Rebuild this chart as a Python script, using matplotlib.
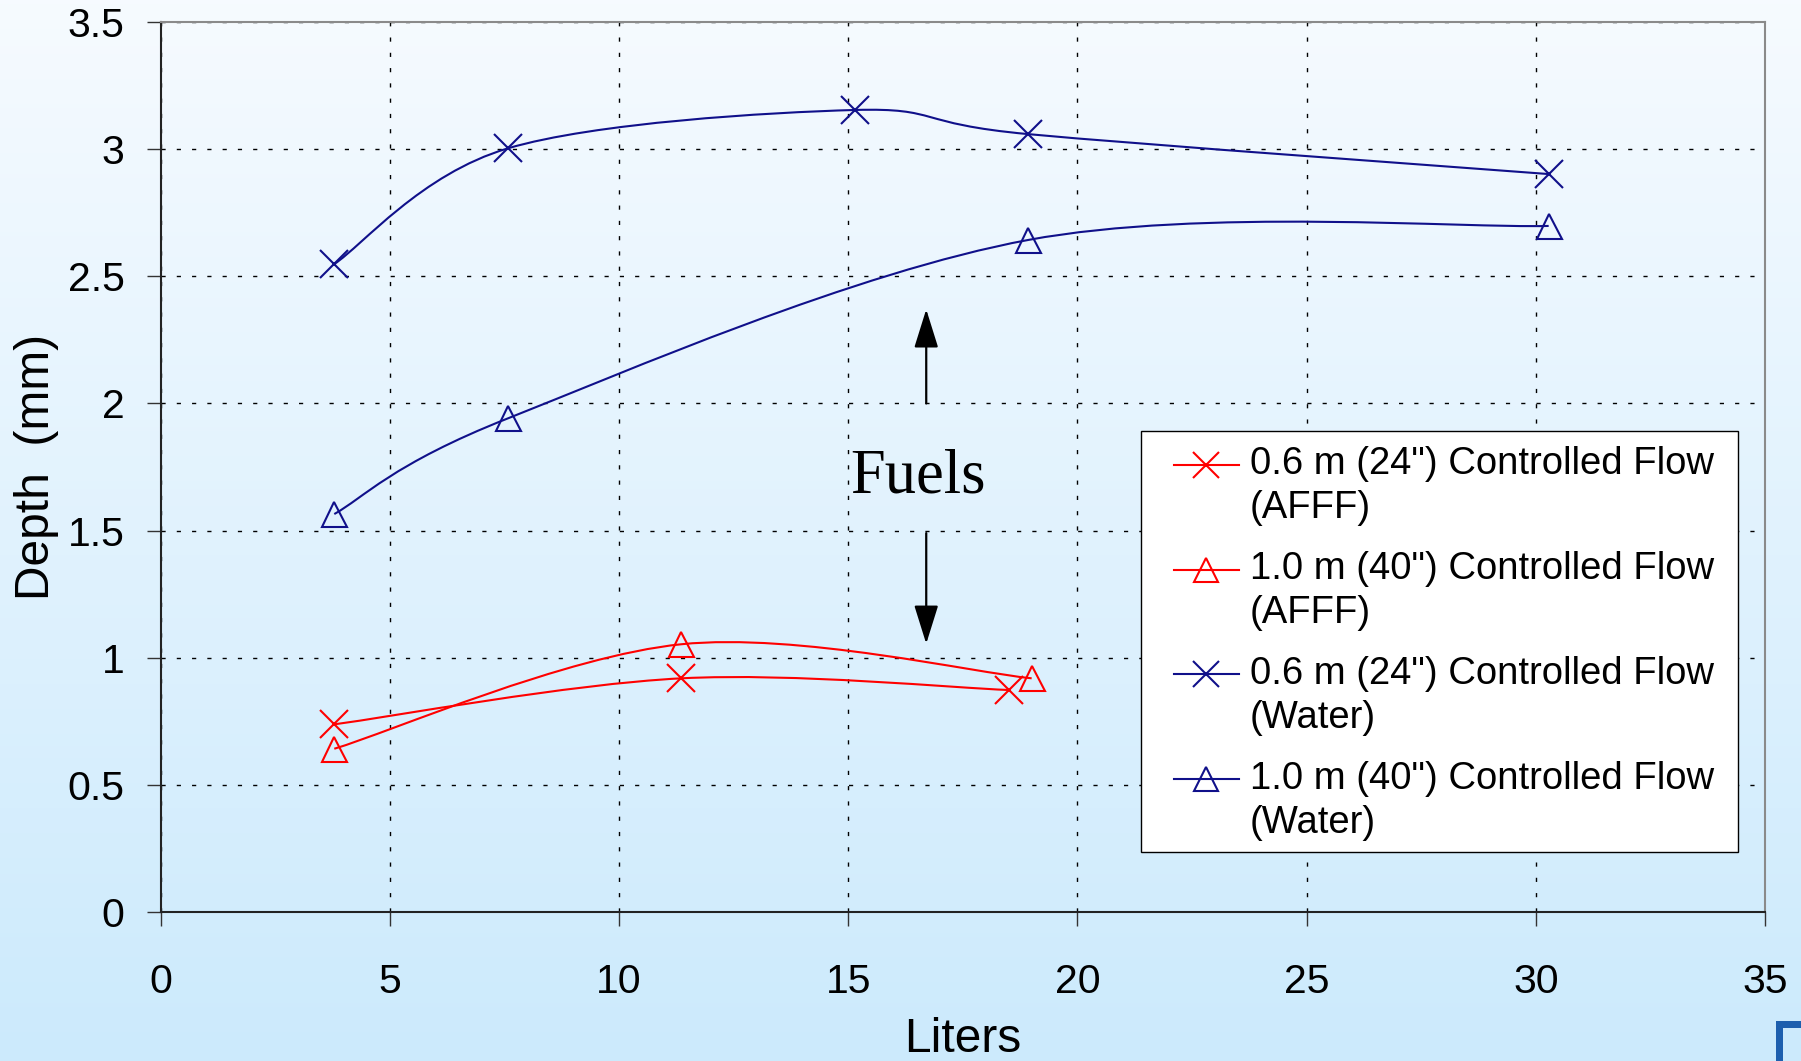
import numpy as np
import matplotlib.pyplot as plt
from matplotlib.path import Path
from matplotlib.patches import PathPatch, Rectangle
from matplotlib.lines import Line2D
from matplotlib.legend_handler import HandlerLine2D

plt.rcParams['font.family'] = ['Liberation Sans', 'DejaVu Sans']

# liters of foam/water applied vs. measured depth (mm)
afff_24_x = [3.785, 11.36, 18.5]
afff_24_y = [0.738, 0.919, 0.873]

afff_40_x = [3.785, 11.36, 19.0]
afff_40_y = [0.642, 1.053, 0.919]

water_24_x = [3.785, 7.57, 15.14, 18.93, 30.28]
water_24_y = [2.548, 3.003, 3.154, 3.059, 2.902]

water_40_x = [3.785, 7.57, 18.93, 30.28]
water_40_y = [1.565, 1.941, 2.643, 2.698]

labels = [
    '0.6 m (24") Controlled Flow\n(AFFF)',
    '1.0 m (40") Controlled Flow\n(AFFF)',
    '0.6 m (24") Controlled Flow\n(Water)',
    '1.0 m (40") Controlled Flow\n(Water)',
]

RED = '#ff0000'
NAVY = '#10108a'


def smooth_path(xs, ys):
    # bezier through the points, control points from neighbours (like a spreadsheet "smoothed line")
    pts = np.column_stack([xs, ys]).astype(float)
    n = len(pts)
    verts = [pts[0]]
    codes = [Path.MOVETO]
    for i in range(n - 1):
        p0 = pts[max(i - 1, 0)]
        p1 = pts[i]
        p2 = pts[i + 1]
        p3 = pts[min(i + 2, n - 1)]
        verts += [p1 + (p2 - p0) / 6.0, p2 - (p3 - p1) / 6.0, p2]
        codes += [Path.CURVE4] * 3
    return Path(verts, codes)


class FirstLineHandler(HandlerLine2D):
    # put the legend sample next to the first line of a two-line label
    def __init__(self, lift, **kw):
        super().__init__(**kw)
        self.lift = lift

    def create_artists(self, legend, orig_handle, xdescent, ydescent,
                       width, height, fontsize, trans):
        arts = super().create_artists(legend, orig_handle, xdescent, ydescent,
                                      width, height, fontsize, trans)
        for a in arts:
            a.set_ydata(np.asarray(a.get_ydata()) + self.lift * fontsize)
        return arts


fig = plt.figure(figsize=(18.01, 10.61), dpi=100)

# light blue background gradient
bg = fig.add_axes([0, 0, 1, 1], zorder=-10)
top = np.array([0.965, 0.983, 1.0])
bottom = np.array([0.80, 0.918, 0.99])
t = np.linspace(0, 1, 256)[:, None]
grad = (top * (1 - t) + bottom * t)[:, None, :]
bg.imshow(grad, aspect='auto', extent=[0, 1, 0, 1])
bg.axis('off')

ax = fig.add_axes([160.8 / 1801, 1 - 912 / 1061, (1765 - 160.8) / 1801, (912 - 22) / 1061])
ax.patch.set_alpha(0)

series = [
    (afff_24_x, afff_24_y, RED, 'x'),
    (afff_40_x, afff_40_y, RED, '^'),
    (water_24_x, water_24_y, NAVY, 'x'),
    (water_40_x, water_40_y, NAVY, '^'),
]

handles = []
for (xs, ys, c, m), lab in zip(series, labels):
    ax.add_patch(PathPatch(smooth_path(xs, ys), facecolor='none', edgecolor=c, lw=1.5, zorder=3))
    ms = 20 if m == 'x' else 18
    ax.plot(xs, ys, ls='none', marker=m, ms=ms, mew=1.5, mfc='none', mec=c, zorder=4)
    handles.append(Line2D([], [], color=c, lw=1.5, marker=m, ms=ms * 0.92, mew=1.5, mfc='none', mec=c))

ax.set_xlim(0, 35)
ax.set_ylim(0, 3.5)
ax.set_xticks(np.arange(0, 36, 5))
ax.set_yticks(np.arange(0, 3.6, 0.5))
ax.set_yticklabels(['0', '0.5', '1', '1.5', '2', '2.5', '3', '3.5'])

ax.grid(True, color='black', lw=1.0, linestyle=(0, (3, 8)))
ax.set_axisbelow(True)

ax.tick_params(axis='both', direction='out', length=10, width=1.0, color='#333333', labelsize=29.5)
ax.tick_params(axis='x', pad=27)
ax.tick_params(axis='y', pad=16)

for s in ['left', 'bottom']:
    ax.spines[s].set_color('#222222')
    ax.spines[s].set_linewidth(1.5)
for s in ['top', 'right']:
    ax.spines[s].set_color('#8a8a8a')
    ax.spines[s].set_linewidth(1.5)

ax.set_xlabel('Liters', fontsize=34.5, labelpad=11)
ax.set_ylabel('Depth  (mm)', fontsize=34.5, labelpad=6)

# annotation in the middle of the plot
ax.text(16.51, 1.65, 'Fuels', family=['Liberation Serif', 'DejaVu Serif'], fontsize=45,
        ha='center', va='baseline', zorder=5)
arrow = dict(arrowstyle='-|>,head_length=1.6,head_width=0.5', mutation_scale=15,
             lw=1.6, color='black', shrinkA=0, shrinkB=0)
ax.annotate('', xy=(16.7, 2.37), xytext=(16.7, 2.0), arrowprops=arrow, zorder=5)
ax.annotate('', xy=(16.7, 1.055), xytext=(16.7, 1.49), arrowprops=arrow, zorder=5)

# legend box
ax.add_patch(Rectangle((1141 / 1801, 1 - 852 / 1061), 597 / 1801, 421 / 1061,
                       transform=fig.transFigure, facecolor='white', edgecolor='black',
                       lw=1.0, zorder=6, clip_on=False))
leg = ax.legend(handles, labels, loc='upper left',
                bbox_to_anchor=(1174 / 1801, 1 - 446 / 1061), bbox_transform=fig.transFigure,
                frameon=False, borderpad=0, borderaxespad=0, fontsize=27.5,
                handlelength=1.7, handletextpad=0.29, labelspacing=0.64,
                handler_map={Line2D: FirstLineHandler(0.58)})
leg.set_zorder(7)
for txt in leg.get_texts():
    txt.set_linespacing(1.3)

# corner mark at bottom right
corner = '#1d5fae'
fig.add_artist(Rectangle((1776 / 1801, 1 - 1028 / 1061), 25 / 1801, 7 / 1061,
                         transform=fig.transFigure, facecolor=corner, edgecolor='none'))
fig.add_artist(Rectangle((1776 / 1801, 0), 7 / 1801, (1061 - 1021) / 1061,
                         transform=fig.transFigure, facecolor=corner, edgecolor='none'))

fig.savefig('out.png', dpi=100)
